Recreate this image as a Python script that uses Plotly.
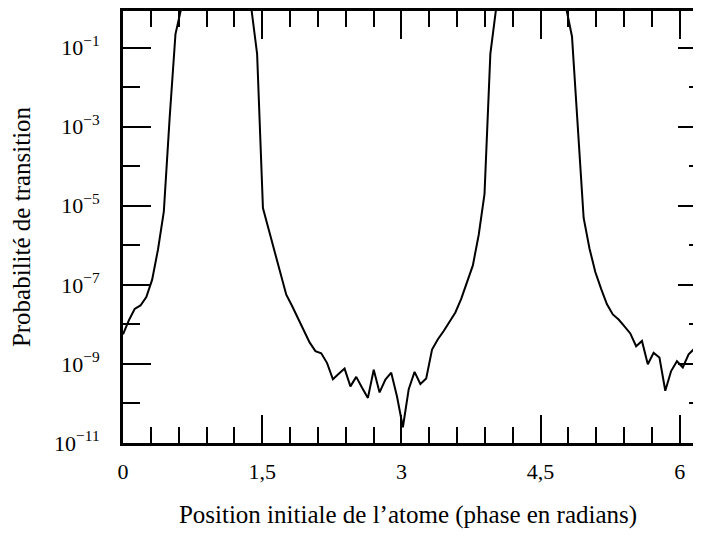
import math
import plotly.graph_objects as go

# Sample grid: initial atom position (phase in radians), 101 samples over [0, 2*pi]
n_samples = 101
phase = [2 * math.pi * i / (n_samples - 1) for i in range(n_samples)]

# Transition probability (log scale)
probability = [
    5.6e-9, 1.26e-8, 2.45e-8, 3.0e-8, 4.9e-8, 1.35e-7, 7.8e-7, 7.1e-6, 1.66e-3, 0.219,
    1.0, 1.0, 1.0, 1.0, 1.0, 1.0, 1.0, 1.0, 1.0, 1.0,
    1.0, 1.0, 1.0, 6.9e-2, 8.7e-6, 2.45e-6, 6.9e-7, 1.82e-7, 5.6e-8, 2.9e-8,
    1.48e-8, 7.1e-9, 3.5e-9, 2.1e-9, 1.86e-9, 1.05e-9, 4.1e-10, 5.6e-10, 7.6e-10, 2.7e-10,
    4.7e-10, 2.5e-10, 1.38e-10, 7.1e-10, 1.9e-10, 4.0e-10, 6.0e-10, 1.48e-10, 2.5e-11, 2.3e-10,
    6.3e-10, 3.1e-10, 4.3e-10, 2.3e-9, 4.2e-9, 6.8e-9, 1.2e-8, 2.0e-8, 4.4e-8, 1.12e-7,
    3.1e-7, 1.82e-6, 2.0e-5, 6.9e-2, 1.0, 1.0, 1.0, 1.0, 1.0, 1.0,
    1.0, 1.0, 1.0, 1.0, 1.0, 1.0, 1.0, 0.19, 7.9e-4, 4.9e-6,
    8.3e-7, 2.1e-7, 7.9e-8, 3.2e-8, 1.78e-8, 1.32e-8, 8.9e-9, 5.9e-9, 2.8e-9, 3.8e-9,
    9.8e-10, 1.9e-9, 1.45e-9, 2.1e-10, 6.6e-10, 1.17e-9, 8.1e-10, 1.74e-9, 2.45e-9, 1.58e-9,
    5.6e-9,
]

x_tickvals = [0, 1.5, 3, 4.5, 6]
x_ticktext = ["0", "1,5", "3", "4,5", "6"]
y_tickvals = [1e-11, 1e-9, 1e-7, 1e-5, 1e-3, 1e-1]
y_ticktext = ["10<sup>\u221211</sup>", "10<sup>\u22129</sup>", "10<sup>\u22127</sup>",
              "10<sup>\u22125</sup>", "10<sup>\u22123</sup>", "10<sup>\u22121</sup>"]
y_minorvals = [1e-10, 1e-8, 1e-6, 1e-4, 1e-2]

FONT = "Liberation Serif, Times New Roman, serif"
Y_RANGE = [-11, -0.077]

fig = go.Figure()
fig.add_trace(go.Scatter(
    x=phase, y=probability, mode="lines",
    line=dict(color="black", width=2),
    showlegend=False, hoverinfo="skip", cliponaxis=True,
))
# empty trace so the right-hand tick axis is drawn
fig.add_trace(go.Scatter(x=[], y=[], yaxis="y2", showlegend=False, hoverinfo="skip"))

fig.update_layout(
    template="none",
    width=685, height=521,
    margin=dict(l=115, r=0, t=3, b=86),
    paper_bgcolor="white", plot_bgcolor="white",
    font=dict(family=FONT, size=22, color="black"),
    xaxis=dict(
        range=[0, 6.142], automargin=False,
        showgrid=False, zeroline=False,
        showline=True, linecolor="black", linewidth=3, mirror="ticks",
        ticks="inside", ticklen=28, tickwidth=2, tickcolor="black",
        tickvals=x_tickvals, ticktext=x_ticktext,
        tickfont=dict(family=FONT, size=22),
        ticklabelstandoff=7,
        minor=dict(dtick=0.3, tick0=0, ticks="inside", ticklen=16, tickwidth=2, tickcolor="black",
                   showgrid=False),
        title=dict(text="Position initiale de l\u2019atome (phase en radians)",
                   font=dict(family=FONT, size=25), standoff=32),
    ),
    yaxis=dict(
        type="log", range=Y_RANGE, automargin=False,
        showgrid=False, zeroline=False,
        showline=True, linecolor="black", linewidth=3, mirror=False,
        ticks="inside", ticklen=28, tickwidth=2, tickcolor="black",
        tickvals=y_tickvals, ticktext=y_ticktext,
        tickfont=dict(family=FONT, size=22),
        ticklabelstandoff=16,
        minor=dict(tickvals=y_minorvals, ticks="inside", ticklen=17, tickwidth=2, tickcolor="black",
                   showgrid=False),
        title=dict(text="Probabilit\u00e9 de transition",
                   font=dict(family=FONT, size=25), standoff=22),
    ),
    yaxis2=dict(
        type="log", range=Y_RANGE, overlaying="y", side="right", automargin=False,
        showgrid=False, zeroline=False, showline=False, mirror=False,
        linecolor="rgba(0,0,0,0)", linewidth=0, showticklabels=False,
        ticks="inside", ticklen=15, tickwidth=2, tickcolor="black",
        tickvals=y_tickvals,
        minor=dict(tickvals=y_minorvals, ticks="inside", ticklen=4, tickwidth=2, tickcolor="black",
                   showgrid=False),
    ),
)

fig.write_html("out.html")
